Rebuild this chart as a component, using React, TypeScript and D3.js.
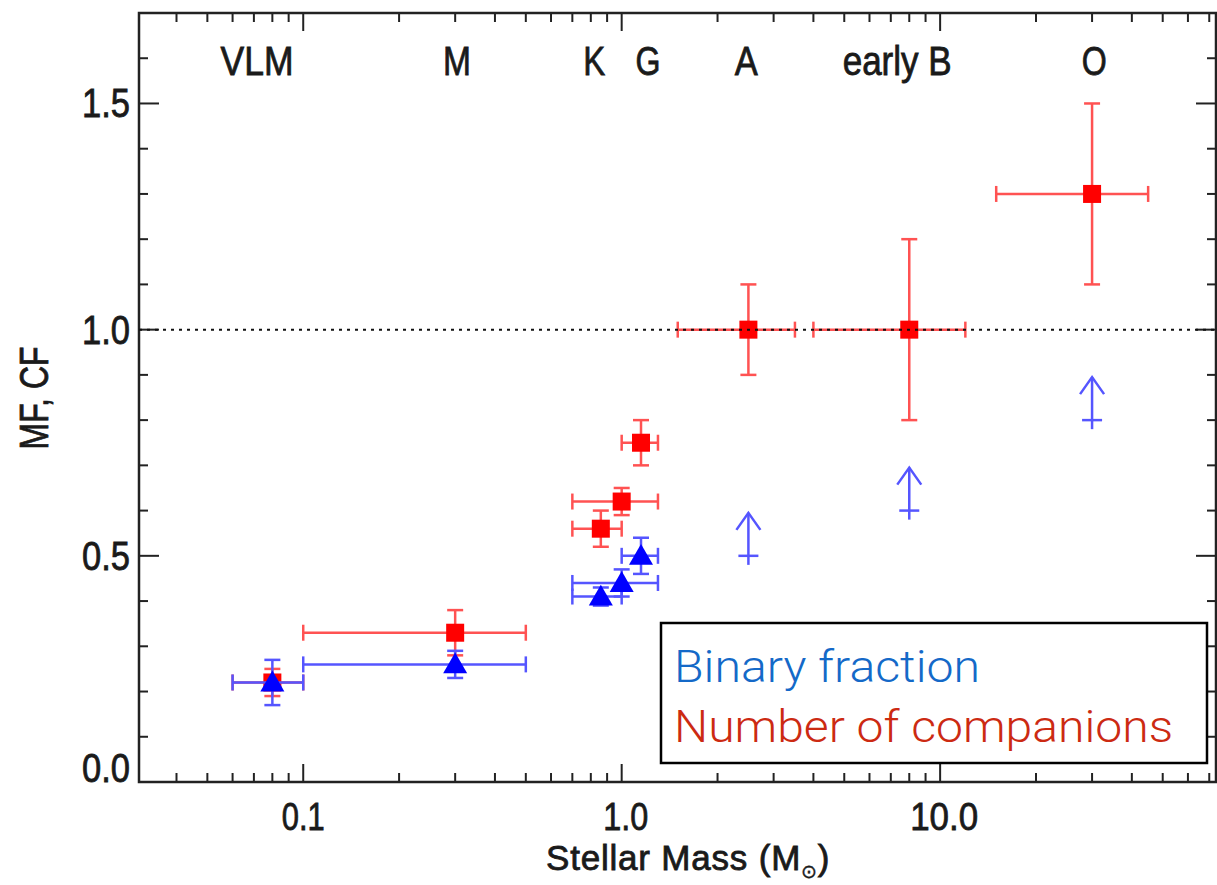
import React, { useEffect, useRef } from 'react';
import * as d3 from 'd3';

// Number of companions (companion frequency), red squares
const cfMass = [0.08, 0.3, 0.86, 1.0, 1.15, 2.5, 8, 30];
const cfValue = [0.22, 0.33, 0.56, 0.62, 0.75, 1.0, 1.0, 1.3];
const cfErr = [0.03, 0.05, 0.04, 0.03, 0.05, 0.1, 0.2, 0.2];
const cfMassLo = [0.06, 0.1, 0.7, 0.7, 1.0, 1.5, 4, 15];
const cfMassHi = [0.1, 0.5, 1.0, 1.3, 1.3, 3.5, 12, 45];

// Binary (multiplicity) fraction, blue triangles
const mfMass = [0.08, 0.3, 0.86, 1.0, 1.15];
const mfValue = [0.22, 0.26, 0.41, 0.44, 0.5];
const mfErr = [0.05, 0.03, 0.02, 0.03, 0.04];
const mfMassLo = [0.06, 0.1, 0.7, 0.7, 1.0];
const mfMassHi = [0.1, 0.5, 1.0, 1.3, 1.3];

// lower limits on the binary fraction
const limMass = [2.5, 8, 30];
const limValue = [0.5, 0.6, 0.8];

// spectral types along the top
const typeLabels = ['VLM', 'M', 'K', 'G', 'A', 'early B', 'O'];
const typeMass = [0.0716, 0.304, 0.82, 1.21, 2.46, 7.33, 30.5];
const typeWidth = [73, 28, 22, 25, 23, 109, 25];

const xMajor = [0.1, 1, 10];
const xMajorLabels = ['0.1', '1.0', '10.0'];
const yMajor = [0, 0.5, 1.0, 1.5];
const yMajorLabels = ['0.0', '0.5', '1.0', '1.5'];

const RED = '#ff0000';
const BLUE = '#0000ff';
const RED_BAR = '#ff5252';
const BLUE_BAR = '#5555ff';
const AXIS = '#222';
const INK = '#1a1a1a';
const FONT = '"Liberation Sans", Arial, Helvetica, sans-serif';

const App = () => {
    const svgRef = useRef(null);

    useEffect(() => {
        if (!svgRef.current) return;
        const svg = d3.select(svgRef.current);
        svg.selectAll('*').remove();

        const left = 139, right = 1216, top = 13, bottom = 782;

        const x = d3.scaleLog().domain([0.0305, 73.5]).range([left, right]);
        const y = d3.scaleLinear().domain([0, 1.7]).range([bottom, top]);

        // ticks
        const minorX = x.ticks().filter(v => !xMajor.some(m => Math.abs(m - v) < 1e-9));
        const minorY = d3.range(0, 17).map(i => i / 10).filter(v => !yMajor.some(m => Math.abs(m - v) < 1e-9));

        const tickG = svg.append('g').attr('stroke', AXIS).attr('stroke-width', 2);
        const addX = (vals, len) => {
            vals.forEach(v => {
                tickG.append('line').attr('x1', x(v)).attr('x2', x(v)).attr('y1', bottom).attr('y2', bottom - len);
                tickG.append('line').attr('x1', x(v)).attr('x2', x(v)).attr('y1', top).attr('y2', top + len);
            });
        };
        addX(minorX, 9);
        addX(xMajor, 18);
        const addY = (vals, len) => {
            vals.forEach(v => {
                tickG.append('line').attr('y1', y(v)).attr('y2', y(v)).attr('x1', left).attr('x2', left + len);
                tickG.append('line').attr('y1', y(v)).attr('y2', y(v)).attr('x1', right).attr('x2', right - len);
            });
        };
        addY(minorY, 9);
        addY(yMajor, 20);

        // frame
        svg.append('rect')
            .attr('x', left).attr('y', top)
            .attr('width', right - left).attr('height', bottom - top)
            .attr('fill', 'none').attr('stroke', AXIS).attr('stroke-width', 2.5);

        // tick labels
        const lab = svg.append('g')
            .attr('font-family', FONT).attr('font-size', 40)
            .attr('fill', INK).attr('stroke', INK).attr('stroke-width', 0.8);
        const xLabW = [43, 45, 68];
        xMajor.forEach((v, i) => {
            lab.append('text')
                .attr('x', x(v) + (i === 0 ? 0 : 4)).attr('y', 830)
                .attr('font-size', 38)
                .attr('text-anchor', 'middle')
                .attr('textLength', xLabW[i]).attr('lengthAdjust', 'spacingAndGlyphs')
                .text(xMajorLabels[i]);
        });
        yMajor.forEach((v, i) => {
            lab.append('text')
                .attr('x', 130).attr('y', Math.min(y(v) + 14, bottom))
                .attr('text-anchor', 'end')
                .attr('textLength', 48).attr('lengthAdjust', 'spacingAndGlyphs')
                .text(yMajorLabels[i]);
        });

        // spectral types
        typeLabels.forEach((t, i) => {
            lab.append('text')
                .attr('x', x(typeMass[i])).attr('y', 75)
                .attr('text-anchor', 'middle')
                .attr('textLength', typeWidth[i]).attr('lengthAdjust', 'spacingAndGlyphs')
                .text(t);
        });

        // axis titles
        const xt = lab.append('text')
            .attr('x', 546).attr('y', 870)
            .attr('font-size', 35)
            .attr('letter-spacing', 0.8);
        xt.append('tspan').text('Stellar Mass (M');
        xt.append('tspan')
            .attr('font-size', 19).attr('dy', 8)
            .attr('font-family', '"DejaVu Sans", sans-serif')
            .attr('stroke-width', 0.4)
            .text('⊙');
        xt.append('tspan').attr('dy', -8).text(')');

        lab.append('text')
            .attr('transform', 'translate(48,398) rotate(-90)')
            .attr('text-anchor', 'middle')
            .attr('font-size', 40)
            .attr('textLength', 103).attr('lengthAdjust', 'spacingAndGlyphs')
            .text('MF, CF');

        const cap = 8;
        const errBars = (g, mass, val, err, lo, hi, color) => {
            const eg = g.append('g').attr('stroke', color).attr('stroke-width', 2.5).attr('fill', 'none');
            mass.forEach((m, i) => {
                const cx = x(m), cy = y(val[i]);
                const y0 = y(val[i] - err[i]), y1 = y(val[i] + err[i]);
                const x0 = x(lo[i]), x1 = x(hi[i]);
                eg.append('line').attr('x1', cx).attr('x2', cx).attr('y1', y0).attr('y2', y1);
                eg.append('line').attr('x1', cx - cap).attr('x2', cx + cap).attr('y1', y0).attr('y2', y0);
                eg.append('line').attr('x1', cx - cap).attr('x2', cx + cap).attr('y1', y1).attr('y2', y1);
                eg.append('line').attr('x1', x0).attr('x2', x1).attr('y1', cy).attr('y2', cy);
                eg.append('line').attr('x1', x0).attr('x2', x0).attr('y1', cy - cap).attr('y2', cy + cap);
                eg.append('line').attr('x1', x1).attr('x2', x1).attr('y1', cy - cap).attr('y2', cy + cap);
            });
        };

        // red: number of companions
        errBars(svg, cfMass, cfValue, cfErr, cfMassLo, cfMassHi, RED_BAR);
        svg.append('g').selectAll('rect')
            .data(cfMass)
            .enter().append('rect')
            .attr('x', d => x(d) - 9)
            .attr('y', (d, i) => y(cfValue[i]) - 9)
            .attr('width', 18).attr('height', 18)
            .attr('fill', RED);

        // blue: binary fraction
        errBars(svg, mfMass, mfValue, mfErr, mfMassLo, mfMassHi, BLUE_BAR);
        const tri = d3.symbol().type(d3.symbolTriangle).size(250);
        svg.append('g').selectAll('path')
            .data(mfMass)
            .enter().append('path')
            .attr('transform', (d, i) => `translate(${x(d)},${y(mfValue[i]) + 2})`)
            .attr('d', tri)
            .attr('fill', BLUE);

        // lower limits
        const ag = svg.append('g').attr('stroke', BLUE_BAR).attr('stroke-width', 2.5).attr('fill', 'none');
        limMass.forEach((m, i) => {
            const cx = x(m);
            const yb = y(limValue[i]);
            const yt = y(limValue[i] + 0.095);
            ag.append('line').attr('x1', cx).attr('x2', cx).attr('y1', y(limValue[i] - 0.02)).attr('y2', yt);
            ag.append('line').attr('x1', cx - 10).attr('x2', cx + 10).attr('y1', yb).attr('y2', yb);
            ag.append('path').attr('d', `M${cx - 12},${yt + 17} L${cx},${yt} L${cx + 12},${yt + 17}`);
        });

        // y = 1 reference line
        svg.append('line')
            .attr('x1', left).attr('x2', right)
            .attr('y1', y(1)).attr('y2', y(1))
            .attr('stroke', '#111').attr('stroke-width', 2)
            .attr('stroke-dasharray', '3,5');

        // legend
        svg.append('rect')
            .attr('x', 661).attr('y', 623).attr('width', 546).attr('height', 140)
            .attr('fill', '#fff').attr('stroke', '#000').attr('stroke-width', 2.5);
        const lg = svg.append('g').attr('font-family', 'Roboto, "Open Sans", sans-serif').attr('font-weight', 300).attr('font-size', 44);
        lg.append('text').attr('x', 674).attr('y', 682).attr('fill', '#1469c8')
            .attr('textLength', 306).attr('lengthAdjust', 'spacingAndGlyphs')
            .text('Binary fraction');
        lg.append('text').attr('x', 674).attr('y', 742).attr('fill', '#cc2a12')
            .attr('textLength', 499).attr('lengthAdjust', 'spacingAndGlyphs')
            .text('Number of companions');
    }, []);

    return (
        <svg
            ref={svgRef}
            width={1217}
            height={885}
            style={{ position: 'absolute', left: 0, top: 0, background: '#fff' }}
        />
    );
};

export default App;
